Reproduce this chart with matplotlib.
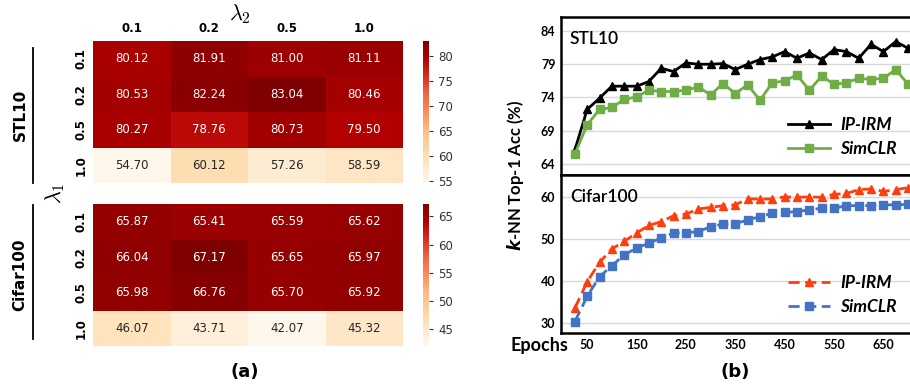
import numpy as np
import matplotlib
matplotlib.use("Agg")
import matplotlib.pyplot as plt
import seaborn as sns

# heatmap data (rows: lambda1, cols: lambda2)
lam_labels = ["0.1", "0.2", "0.5", "1.0"]
stl_grid = np.array([[80.12, 81.91, 81.00, 81.11],
                     [80.53, 82.24, 83.04, 80.46],
                     [80.27, 78.76, 80.73, 79.50],
                     [54.70, 60.12, 57.26, 58.59]])
cifar_grid = np.array([[65.87, 65.41, 65.59, 65.62],
                       [66.04, 67.17, 65.65, 65.97],
                       [65.98, 66.76, 65.70, 65.92],
                       [46.07, 43.71, 42.07, 45.32]])
stl_cbar_ticks = [55, 60, 65, 70, 75, 80]
cifar_cbar_ticks = [45, 50, 55, 60, 65]

# training curves
epochs = list(range(25, 701, 25))
stl_ipirm = [66.1, 72.2, 73.9, 75.7, 75.7, 75.7, 76.4, 78.4, 77.9, 79.2, 79.0, 79.0, 79.1, 78.2,
             79.0, 79.7, 80.1, 80.9, 79.9, 80.7, 79.7, 81.2, 80.9, 79.9, 82.0, 80.9, 82.4, 81.4]
stl_simclr = [65.5, 69.9, 72.2, 72.5, 73.7, 74.1, 75.1, 74.9, 74.9, 75.1, 75.6, 74.4, 76.1, 74.6,
              75.9, 73.6, 76.2, 76.5, 77.4, 75.1, 77.2, 76.0, 76.2, 76.9, 76.7, 76.9, 78.2, 76.0]
cifar_ipirm = [33.5, 39.8, 44.4, 47.6, 49.4, 51.4, 53.2, 54.1, 55.5, 55.9, 57.1, 57.5, 57.9, 58.1,
               59.5, 59.5, 59.5, 60.0, 59.9, 60.0, 59.9, 60.6, 60.8, 61.7, 61.9, 61.3, 61.7, 62.2]
cifar_simclr = [30.3, 36.3, 41.0, 43.6, 46.2, 47.8, 49.0, 50.2, 51.4, 51.5, 51.7, 52.9, 53.5, 53.6,
                54.5, 55.3, 56.1, 56.3, 56.5, 56.9, 57.3, 57.3, 57.9, 57.9, 57.9, 58.1, 58.1, 58.2]
epoch_ticks = [50, 150, 250, 350, 450, 550, 650]

W, H = 910, 385
fig = plt.figure(figsize=(W / 100, H / 100), dpi=100)


def box(x0, y0, x1, y1):
    # pixel box -> figure axes
    return fig.add_axes([x0 / W, 1 - y1 / H, (x1 - x0) / W, (y1 - y0) / H])


# ---- (a) heatmaps ----
def draw_heat(ax, cax, grid, ticks, top):
    sns.heatmap(grid, ax=ax, cbar_ax=cax, cmap="OrRd", annot=True, fmt=".2f",
                annot_kws={"size": 8.5}, xticklabels=lam_labels, yticklabels=lam_labels)
    ax.tick_params(length=0, pad=4)
    for t in ax.get_yticklabels():
        t.set_rotation(90)
        t.set_va("center")
        t.set_fontweight("bold")
        t.set_fontsize(8.5)
    if top:
        ax.xaxis.tick_top()
        for t in ax.get_xticklabels():
            t.set_fontweight("bold")
            t.set_fontsize(8.5)
    else:
        ax.set_xticks([])
    cax.set_yticks(ticks)
    cax.tick_params(labelsize=8.5, length=3, colors="#333333")


ax1 = box(93, 41, 403, 183)
cax1 = box(423, 41, 429, 183)
draw_heat(ax1, cax1, stl_grid, stl_cbar_ticks, True)
ax2 = box(93, 204, 403, 346)
cax2 = box(423, 204, 429, 346)
draw_heat(ax2, cax2, cifar_grid, cifar_cbar_ticks, False)

fig.text(240 / W, 1 - 14 / H, r"$\lambda_2$", fontsize=16, ha="center", va="center",
         math_fontfamily="cm")
fig.text(55 / W, 1 - 193 / H, r"$\lambda_1$", fontsize=16, ha="center", va="center",
         rotation=90, math_fontfamily="cm")
fig.text(20 / W, 1 - 115 / H, "STL10", fontsize=11, fontweight="bold", rotation=90,
         ha="center", va="center")
fig.text(20 / W, 1 - 275 / H, "Cifar100", fontsize=11, fontweight="bold", rotation=90,
         ha="center", va="center")
fig.add_artist(plt.Line2D([33 / W, 33 / W], [1 - 48 / H, 1 - 183 / H], color="black", lw=1.3))
fig.add_artist(plt.Line2D([33 / W, 33 / W], [1 - 205 / H, 1 - 339 / H], color="black", lw=1.3))
fig.text(245 / W, 1 - 372 / H, "(a)", fontsize=13, fontweight="bold", ha="center", va="center")

# ---- (b) curves ----
lato = "Lato"
bx1 = box(561, 17, 913, 175)
bx2 = box(561, 175, 913, 333)

for ax in (bx1, bx2):
    for s in ax.spines.values():
        s.set_linewidth(1.8)
        s.set_color("black")
    ax.set_xlim(-3, 710)
    ax.grid(axis="y", color="#d9d9d9", lw=1)
    ax.set_axisbelow(True)
    ax.tick_params(length=0, labelsize=9, pad=4)
    ax.set_xticks(epoch_ticks)

bx1.plot(epochs, stl_ipirm, color="black", lw=2, marker="^", ms=6, label="IP-IRM")
bx1.plot(epochs, stl_simclr, color="#70AD47", lw=2, marker="s", ms=5.5, label="SimCLR")
bx1.set_ylim(62.35, 86.1)
bx1.set_yticks([64, 69, 74, 79, 84])
bx1.set_xticklabels([])

bx2.plot(epochs, cifar_ipirm, color="#FF3D0D", lw=2, ls=(0, (4, 2)), marker="^", ms=6,
         label="IP-IRM")
bx2.plot(epochs, cifar_simclr, color="#4472C4", lw=2, ls=(0, (4, 2)), marker="s", ms=5.5,
         label="SimCLR")
bx2.set_ylim(27.6, 65.2)
bx2.set_yticks([30, 40, 50, 60])
bx2.set_xticklabels([str(e) for e in epoch_ticks])

for ax in (bx1, bx2):
    for t in ax.get_xticklabels() + ax.get_yticklabels():
        t.set_fontweight("bold")
        t.set_family(lato)
    ax.legend(loc="upper left", bbox_to_anchor=(0.625, 0.41), frameon=False, borderaxespad=0,
              handlelength=2.4, handletextpad=0.6, labelspacing=0.45,
              prop={"family": lato, "weight": "bold", "style": "italic", "size": 12.5})

bx1.text(0.025, 0.83, "STL10", transform=bx1.transAxes, fontsize=12.5, family=lato,
         fontweight="semibold")
bx2.text(0.025, 0.83, "Cifar100", transform=bx2.transAxes, fontsize=12.5, family=lato,
         fontweight="semibold")

fig.text(515 / W, 1 - 175 / H, r"$\mathbfit{k}$-NN Top-1 Acc (%)", fontsize=12,
         fontweight="bold", family=lato, rotation=90, ha="center", va="center",
         math_fontfamily="dejavusans")
fig.text(539 / W, 1 - 346 / H, "Epochs", fontsize=13, fontweight="bold", family=lato,
         ha="center", va="center")
fig.text(735 / W, 1 - 372 / H, "(b)", fontsize=13, fontweight="bold", ha="center", va="center")

fig.savefig("out.png", dpi=100)
